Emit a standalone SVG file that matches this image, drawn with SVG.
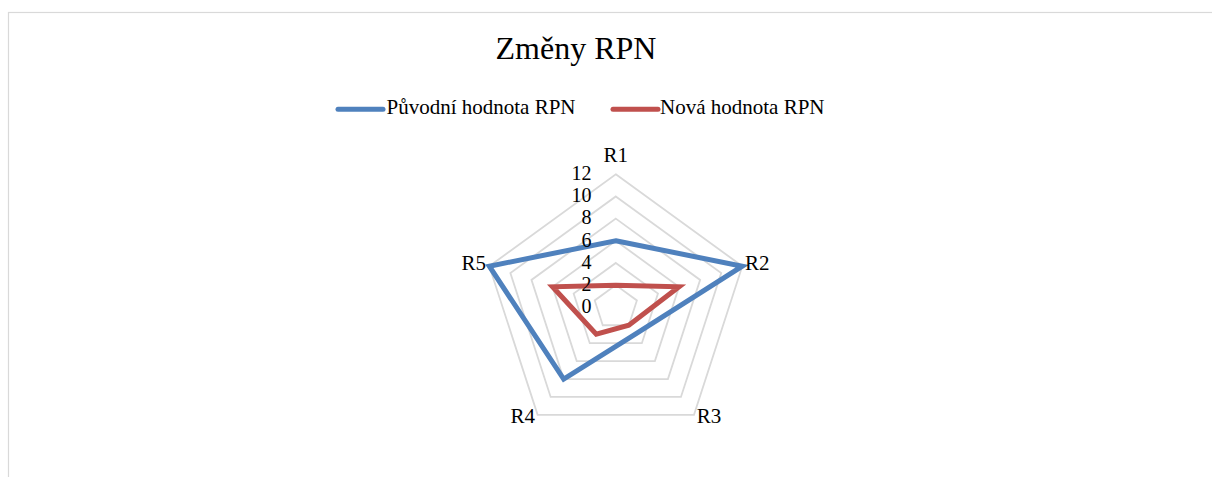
<svg xmlns="http://www.w3.org/2000/svg" width="1212" height="477" viewBox="0 0 1212 477">
<style>
  text { font-family: 'Liberation Serif', Tinos, 'DejaVu Serif', serif; fill: #000000; }
  .title { font-size: 32px; }
  .leg { font-size: 21px; }
  .cat { font-size: 21px; }
  .tick { font-size: 20px; text-anchor: end; }
  .grid { fill: none; stroke: #d9d9d9; stroke-width: 1.8; }
  .s1 { fill: none; stroke: #4f81bd; stroke-width: 5; stroke-linejoin: miter; stroke-miterlimit: 6; }
  .s2 { fill: none; stroke: #c0504d; stroke-width: 5; stroke-linejoin: miter; stroke-miterlimit: 6; }
  .legline { stroke-width: 5; stroke-linecap: round; }
</style>
<rect x="0" y="0" width="1212" height="477" fill="#ffffff"/>
<g id="chart-frame">
  <rect x="8.5" y="12.5" width="1300" height="600" fill="#ffffff" stroke="#d9d9d9" stroke-width="1.2"/>
</g>
<g id="title">
  <text class="title" x="576" y="59" text-anchor="middle">Změny RPN</text>
</g>
<g id="legend">
  <line class="legline" x1="338" y1="109.3" x2="383" y2="109.3" stroke="#4f81bd"/>
  <text class="leg" x="386.5" y="114.3">Původní hodnota RPN</text>
  <line class="legline" x1="613" y1="109.3" x2="658" y2="109.3" stroke="#c0504d"/>
  <text class="leg" x="660" y="114.3">Nová hodnota RPN</text>
</g>
<g id="grid">
  <polygon class="grid" points="615.8,174.3 742.29,266.2 693.98,414.9 537.62,414.9 489.31,266.2"/>
  <polygon class="grid" points="615.8,196.47 721.21,273.05 680.95,396.97 550.65,396.97 510.39,273.05"/>
  <polygon class="grid" points="615.8,218.63 700.13,279.9 667.92,379.03 563.68,379.03 531.47,279.9"/>
  <polygon class="grid" points="615.8,240.8 679.05,286.75 654.89,361.1 576.71,361.1 552.55,286.75"/>
  <polygon class="grid" points="615.8,262.97 657.96,293.6 641.86,343.17 589.74,343.17 573.64,293.6"/>
  <polygon class="grid" points="615.8,285.13 636.88,300.45 628.83,325.23 602.77,325.23 594.72,300.45"/>
</g>
<g id="connectors">
  <polygon id="series-puvodni" class="s1" points="615.8,240.8 742.29,266.2 635.34,334.2 563.68,379.03 489.31,266.2"/>
  <polygon id="series-nova" class="s2" points="615.8,285.13 679.05,286.75 628.83,325.23 596.26,334.2 552.55,286.75"/>
</g>
<g id="axis-ticks">
  <text class="tick" x="591.5" y="180">12</text>
  <text class="tick" x="591.5" y="202.2">10</text>
  <text class="tick" x="591.5" y="224.3">8</text>
  <text class="tick" x="591.5" y="246.5">6</text>
  <text class="tick" x="591.5" y="268.5">4</text>
  <text class="tick" x="591.5" y="290.5">2</text>
  <text class="tick" x="591.5" y="312.5">0</text>
</g>
<g id="category-labels">
  <g id="cat-R1"><text class="cat" x="615.8" y="161.7" text-anchor="middle">R1</text></g>
  <g id="cat-R2"><text class="cat" x="745" y="270">R2</text></g>
  <g id="cat-R3"><text class="cat" x="696.7" y="423">R3</text></g>
  <g id="cat-R4"><text class="cat" x="535" y="423" text-anchor="end">R4</text></g>
  <g id="cat-R5"><text class="cat" x="486" y="270" text-anchor="end">R5</text></g>
</g>
</svg>
